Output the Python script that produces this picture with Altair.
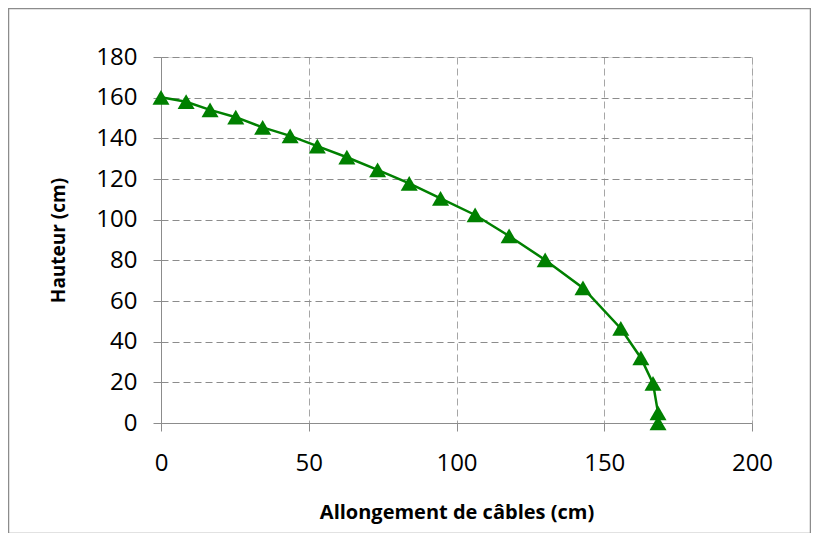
import altair as alt
import pandas as pd

# Data
allongement = [0, 8.5, 16.6, 25.3, 34.4, 43.7, 52.9, 62.9, 73.3, 84.0, 94.6,
               106.3, 117.8, 130.0, 142.8, 155.6, 162.4, 166.5, 168.2, 168.2]
hauteur = [160.2, 158.0, 154.0, 150.4, 145.4, 141.2, 136.2, 130.7, 124.5, 117.9, 110.5,
           102.3, 92.0, 80.2, 66.4, 46.5, 32.0, 19.5, 5.0, 0.0]

x_ticks = [0, 50, 100, 150, 200]
y_ticks = [0, 20, 40, 60, 80, 100, 120, 140, 160, 180]

df = pd.DataFrame({"x": allongement, "y": hauteur, "order": list(range(len(hauteur)))})

FONT = "Open Sans"

x_enc = alt.X(
    "x:Q",
    scale=alt.Scale(domain=[0, 200], nice=False, zero=False),
    axis=alt.Axis(
        values=x_ticks,
        title="Allongement de câbles (cm)",
        titleFont=FONT, titleFontSize=20, titleFontWeight="bold", titleColor="#000000",
        titlePadding=27,
        labelFont=FONT, labelFontSize=24, labelColor="#000000", labelPadding=20,
        labelFlush=False, labelOverlap=False,
        grid=True, gridColor="#a6a6a6", gridDash=[7, 4], gridWidth=1,
        domainColor="#8c8c8c", domainWidth=1,
        tickColor="#8c8c8c", tickSize=8, tickWidth=1,
    ),
)
y_enc = alt.Y(
    "y:Q",
    scale=alt.Scale(domain=[0, 180], nice=False, zero=False),
    axis=alt.Axis(
        values=y_ticks,
        title="Hauteur (cm)",
        titleFont=FONT, titleFontSize=19, titleFontWeight="bold", titleColor="#000000",
        titlePadding=27,
        labelFont=FONT, labelFontSize=24, labelColor="#000000", labelPadding=16,
        labelFlush=False, labelOverlap=False,
        grid=True, gridColor="#8c8c8c", gridDash=[7, 4], gridWidth=1,
        domainColor="#8c8c8c", domainWidth=1,
        tickColor="#8c8c8c", tickSize=8, tickWidth=1,
    ),
)

line = alt.Chart(df).mark_line(color="#008000", strokeWidth=2.5).encode(
    x=x_enc, y=y_enc, order="order:Q"
)
points = alt.Chart(df).mark_point(
    shape="triangle-up", filled=True, color="#008000", opacity=1, size=290
).encode(x="x:Q", y="y:Q")

border = alt.Chart(pd.DataFrame({"a": [0]})).mark_rect(
    fill=None, stroke="#8c8c8c", strokeWidth=1.5
).encode(
    x=alt.value(-152.5), x2=alt.value(649.5), y=alt.value(-48.5), y2=alt.value(476.5)
)

chart = alt.layer(border, line, points).properties(
    width=591, height=366,
    autosize=alt.AutoSizeParams(type="none"),
    padding={"left": 153, "top": 49, "right": 59, "bottom": 110},
).configure_view(stroke=None).configure(background="#ffffff")

chart.save("out.html", embed_options={"renderer": "svg", "actions": False})
